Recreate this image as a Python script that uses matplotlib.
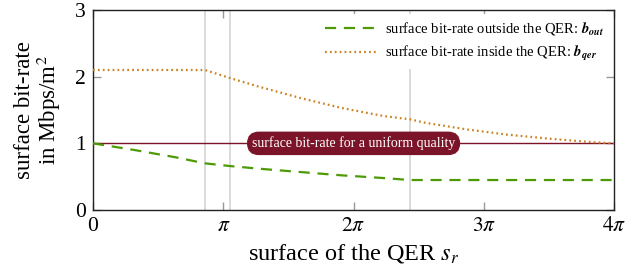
import numpy as np
import matplotlib
matplotlib.use('Agg')
from matplotlib import pyplot as plt

x_out = [0, 1, 2, 2.7, 3.3, 4, 5, 6, 7, 7.65, 9, 10, 11, 12, 4*np.pi]
b_out = [1.0, 0.9, 0.79, 0.7, 0.66, 0.62, 0.57, 0.52, 0.48, 0.45, 0.45, 0.45, 0.45, 0.45, 0.45]
x_qer = [0, 1, 2, 2.7, 3.3, 4, 5, 6, 7, 7.65, 8, 9, 10, 11, 12, 4*np.pi]
b_qer = [2.1, 2.1, 2.1, 2.1, 1.98, 1.85, 1.68, 1.53, 1.41, 1.36, 1.31, 1.21, 1.13, 1.07, 1.02, 1.0]
b_uniform = 1.0
marks = [2.7, 3.3, 7.65]
xticks = [0, np.pi, 2*np.pi, 3*np.pi, 4*np.pi]
xticklabels = ['0', r'$\pi$', r'$2\pi$', r'$3\pi$', r'$4\pi$']
yticks = [0, 1, 2, 3]

plt.rcParams['font.family'] = 'Liberation Serif'
plt.rcParams['mathtext.fontset'] = 'stix'

fig = plt.figure(figsize=(6.26, 2.76), dpi=100)
ax = fig.add_axes([0.1486, 0.239, 0.8324, 0.7248])

for m in marks:
    ax.axvline(m, color='#d4d4d4', lw=1.2, zorder=1)

red = '#7b1429'
ax.axhline(b_uniform, color=red, lw=1.0, zorder=2)
ax.text(2*np.pi, b_uniform, 'surface bit-rate for a uniform quality', color='white',
        fontsize=10, ha='center', va='center', zorder=5,
        bbox=dict(boxstyle='round,pad=0.3,rounding_size=0.8', fc=red, ec=red))

ax.plot(x_out, b_out, color='#4d9a06', lw=1.6, ls=(0, (5, 3.5)), zorder=3,
        label=r'surface bit-rate outside the QER: $\mathbfit{b_{out}}$')
ax.plot(x_qer, b_qer, color='#cc8222', lw=1.6, ls=(0, (0.8, 1.4)), zorder=3,
        label=r'surface bit-rate inside the QER: $\mathbfit{b_{qer}}$')

ax.set_xlim(0, 4*np.pi)
ax.set_ylim(0, 3)
ax.set_xticks(xticks)
ax.set_xticklabels(xticklabels)
ax.set_yticks(yticks)
ax.tick_params(direction='in', length=6, width=1, color='#999999', labelsize=15.5,
               top=True, right=True, pad=5)
for s in ax.spines.values():
    s.set_linewidth(1.0)
    s.set_color('#222222')

ax.set_xlabel(r'surface of the QER $s_r$', fontsize=17.5, labelpad=4)
ax.set_ylabel('surface bit-rate\nin Mbps/m$^2$', fontsize=16.5, labelpad=9, linespacing=1.0)

leg = ax.legend(loc='upper right', fontsize=10.5, frameon=True, fancybox=False,
                edgecolor='none', facecolor='white', framealpha=1,
                handlelength=3.6, handletextpad=0.5, labelspacing=0.5,
                borderaxespad=0.3)
leg.set_zorder(6)

fig.savefig('out.png', dpi=100)
